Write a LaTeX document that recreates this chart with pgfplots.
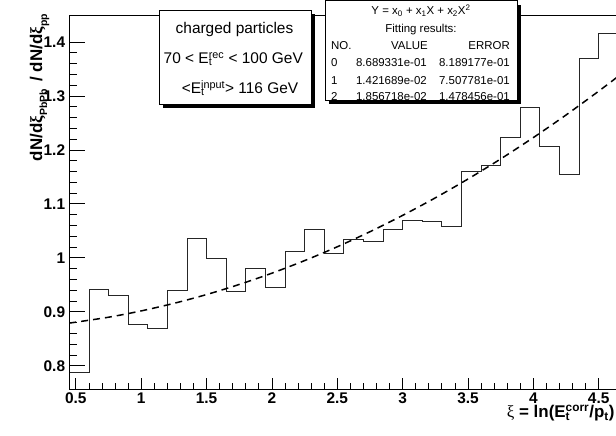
\documentclass[border=0pt]{standalone}
\usepackage{fontspec}
\setmainfont{Liberation Sans}
\newfontfamily\grk{Liberation Serif}
\usepackage{pgfplots}
\pgfplotsset{compat=1.18}
\newcommand\supsub[2]{\rlap{\textsubscript{#2}}\textsuperscript{#1}}
\newcommand\lsub[1]{\raisebox{-0.3em}{\fontsize{10.5}{12}\selectfont #1}}

\begin{document}
\begin{tikzpicture}
\pgfplotsset{
  common/.style={
    scale only axis, width=549bp, height=374bp,
    at={(69.3bp,47bp)}, anchor=south west,
    xmin=0.45, xmax=4.65, ymin=0.757, ymax=1.45,
    axis line style={line width=0.8bp},
    every tick/.style={black, line width=0.8bp},
    tick align=inside,
    /pgf/number format/assume math mode=true,
    tick label style={font=\bfseries\fontsize{15.5}{18}\selectfont},
  }
}
\begin{axis}[common, xtick={0.5,1,...,4.5}, minor x tick num=4, ytick=\empty,
  xtick pos=bottom, major tick length=11bp, minor tick length=5.5bp,
  xticklabel style={inner sep=1bp, yshift=-3bp}]
\addplot[const plot, black!85, line width=0.8bp] coordinates {
(0.45,0.788) (0.60,0.941) (0.75,0.931) (0.90,0.877) (1.05,0.869) (1.20,0.940)
(1.35,1.036) (1.50,0.999) (1.65,0.937) (1.80,0.980) (1.95,0.945) (2.10,1.012)
(2.25,1.052) (2.40,1.009) (2.55,1.035) (2.70,1.031) (2.85,1.052) (3.00,1.069)
(3.15,1.067) (3.30,1.059) (3.45,1.161) (3.60,1.171) (3.75,1.224) (3.90,1.279)
(4.05,1.207) (4.20,1.155) (4.35,1.370) (4.50,1.416) (4.65,1.416)
};
\addplot[smooth, black, line width=1.5bp, dash pattern=on 7bp off 5bp] coordinates {
(0.45,0.8791) (0.75,0.8900) (1.00,0.9017) (1.25,0.9157) (1.50,0.9320)
(1.75,0.9507) (2.00,0.9716) (2.25,0.9949) (2.50,1.0205) (2.75,1.0484)
(3.00,1.0787) (3.25,1.1112) (3.50,1.1461) (3.75,1.1833) (4.00,1.2229)
(4.25,1.2647) (4.50,1.3089) (4.65,1.3365)
};
\end{axis}
\begin{axis}[common, xtick=\empty, ytick={0.8,0.9,1,1.1,1.2,1.3,1.4},
  minor y tick num=4, ytick pos=left, major tick length=16bp, minor tick length=8bp,
  yticklabel style={inner sep=1bp, xshift=-3bp}]
\end{axis}

\begin{scope}[yshift=436bp, x=1bp, y=-1bp]
  % left text box
  \fill[black] (163.3,14.5) rectangle (315,108);
  \filldraw[fill=white, draw=black, line width=0.8bp] (159.3,10.5) rectangle (311,104);
  \begin{scope}[every node/.style={inner sep=0pt, font=\fontsize{15.5}{18}\selectfont, anchor=base}]
    \node at (234.5,33.5) {charged particles};
    \node at (233.3,63.3) {70 < E\supsub{rec}{t} < 100 GeV};
    \node at (240,93.3) {<E\supsub{input}{t}> 116 GeV};
  \end{scope}
  % right fit box
  \fill[black] (329.3,4.7) rectangle (521,104);
  \filldraw[fill=white, draw=black, line width=0.8bp] (325.3,0.7) rectangle (517,100);
  \begin{scope}[every node/.style={inner sep=0pt, font=\fontsize{11.5}{13}\selectfont}]
    \node[anchor=base] at (421,15) {Y = x\textsubscript{0} + x\textsubscript{1}X + x\textsubscript{2}X\textsuperscript{2}};
    \node[anchor=base] at (421,32.7) {Fitting results:};
    \node[anchor=base west] at (331,49.3) {NO.};
    \node[anchor=base east] at (428,49.3) {VALUE};
    \node[anchor=base east] at (510,49.3) {ERROR};
    \node[anchor=base west] at (331,66.7) {0};
    \node[anchor=base east] at (427,66.7) {8.689331e-01};
    \node[anchor=base east] at (510,66.7) {8.189177e-01};
    \node[anchor=base west] at (331,84.3) {1};
    \node[anchor=base east] at (427,84.3) {1.421689e-02};
    \node[anchor=base east] at (510,84.3) {7.507781e-01};
    \node[anchor=base west] at (331,100.4) {2};
    \node[anchor=base east] at (427,100.4) {1.856718e-02};
    \node[anchor=base east] at (510,100.4) {1.478456e-01};
  \end{scope}
  % axis titles
  \node[rotate=90, anchor=base east, inner sep=0pt, font=\bfseries\fontsize{17}{20}\selectfont]
    at (42,14) {dN/d{\grk ξ}\lsub{PbPb}\hspace{0.45em}/ dN/d{\grk ξ}\lsub{pp}};
  \node[anchor=base west, inner sep=0pt, font=\bfseries\fontsize{17}{20}\selectfont]
    at (506.7,418) {{\grk\mdseries ξ} = ln(E\supsub{corr}{t}/p\textsubscript{t})};
\end{scope}
\pgfresetboundingbox
\useasboundingbox (0,0) rectangle (616bp,436bp);
\end{tikzpicture}
\end{document}
